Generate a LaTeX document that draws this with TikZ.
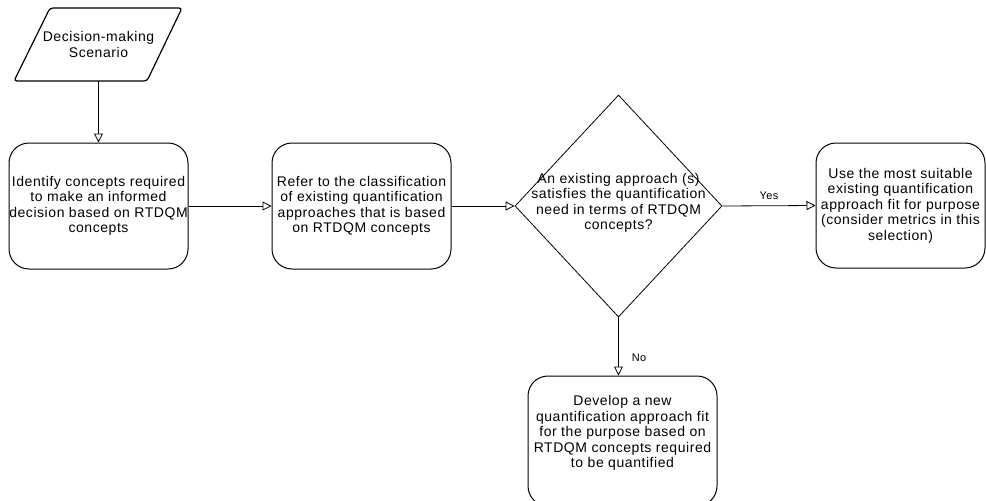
\documentclass[tikz,border=0pt]{standalone}
\usepackage{fontspec}
\setmainfont[LetterSpace=4]{Liberation Sans}
\usetikzlibrary{shapes.geometric,arrows.meta}
\begin{document}
\begin{tikzpicture}[x=1pt,y=-1pt,
  txt/.style={font=\fontsize{14}{15.5}\selectfont, align=center},
  box/.style={txt, draw, rounded corners=20pt, line width=1pt, inner sep=0pt},
  conn/.style={line width=0.8pt, -{Triangle[open,length=9pt,width=9pt]}},
  lbl/.style={font=\fontsize{11}{13}\selectfont},
]
\path[use as bounding box] (0,0) rectangle (986,501);
\clip (0,0) rectangle (986,501);
\fill[white] (0,0) rectangle (986,501);

% scenario parallelogram
\draw[line width=1.2pt, rounded corners=3pt] (50,8) -- (182,8) -- (147,81) -- (14,81) -- cycle;
\node[txt, minimum width=168pt, minimum height=73pt, inner sep=0pt] (scen) at (98.5,44.5) {Decision-making\\Scenario};

\node[box, minimum width=179pt, minimum height=126pt] (b1) at (98.5,206)
  {Identify concepts required\\to make an informed\\decision based on RTDQM\\concepts};
\node[box, minimum width=179pt, minimum height=126pt] (b2) at (361.5,206)
  {Refer to the classification\\of existing quantification\\approaches that is based\\on RTDQM concepts};
\node[diamond, draw, line width=0.8pt, minimum width=207pt, minimum height=222pt, inner sep=0pt] (dia) at (618.5,206) {};
\node[txt] (diat) at (618.5,203)
  {An existing approach (s)\\satisfies the quantification\\need in terms of RTDQM\\concepts?};
\node[box, minimum width=169pt, minimum height=125pt] (b3) at (900.5,205.5)
  {Use the most suitable\\existing quantification\\approach fit for purpose\\(consider metrics in this\\selection)};
\node[draw, rounded corners=20pt, line width=1pt, minimum width=189pt, minimum height=130pt, inner sep=0pt] (b4) at (622.5,441) {};
\node[txt] (b4t) at (622.5,433)
  {Develop a new\\quantification approach fit\\for the purpose based on\\RTDQM concepts required\\to be quantified};

\draw[conn] (scen.south) -- (b1.north);
\draw[conn] (b1.east) -- (b2.west);
\draw[conn] (b2.east) -- (dia.west);
\draw[conn] (dia.east) -- (b3.west);
\draw[conn] (dia.south) -- (dia.south |- b4.north);
\node[lbl] (yes) at (769,196) {Yes};
\node[lbl] (no) at (639,358) {No};
\end{tikzpicture}
\end{document}
